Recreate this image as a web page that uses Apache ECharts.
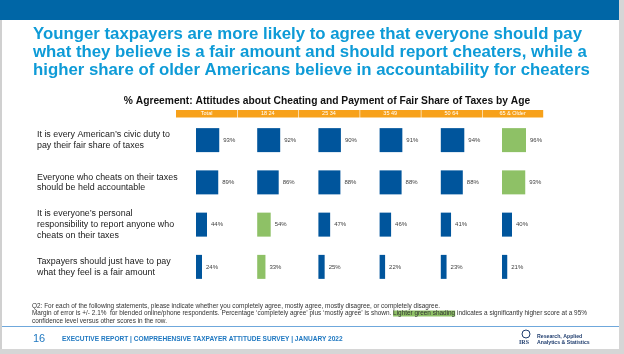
<!DOCTYPE html>
<html>
<head>
<meta charset="utf-8">
<script src="https://cdn.jsdelivr.net/npm/echarts@6/dist/echarts.min.js"></script>
<style>
  html, body { margin: 0; padding: 0; background: #fff; }
  #chart { width: 624px; height: 354px; }
</style>
</head>
<body>
<div id="chart"></div>
<script>
// statements (rows) and age groups (columns)
const statements = [
    'It is every American\u2019s civic duty to\npay their fair share of taxes',
    'Everyone who cheats on their taxes\nshould be held accountable',
    'It is everyone\u2019s personal\nresponsibility to report anyone who\ncheats on their taxes',
    'Taxpayers should just have to pay\nwhat they feel is a fair amount'
];
const ageGroups = ['Total', '18 24', '25 34', '35 49', '50 64', '65 & Older'];

// % agreement, one array per column
const total = [93, 89, 44, 24];
const age18to24 = [92, 86, 54, 33];
const age25to34 = [90, 88, 47, 25];
const age35to49 = [91, 88, 46, 22];
const age50to64 = [94, 88, 41, 23];
const age65plus = [96, 93, 40, 21];
const columns = [total, age18to24, age25to34, age35to49, age50to64, age65plus];

// rows with a significantly higher score (lighter green), per column
const higherRows = [[], [2, 3], [], [], [], [0, 1]];

const BLUE = '#00559c';
const GREEN = '#8ec166';
const ORANGE = '#f7a11a';

const colLeft = 176, colW = 61.2;
const barOffset = 20;

const grids = [], xAxes = [], yAxes = [], series = [];
columns.forEach((vals, i) => {
    grids.push({ left: colLeft + i * colW + barOffset, top: 119, width: 25, height: 169 });
    xAxes.push({ gridIndex: i, type: 'value', min: 0, max: 100, show: false });
    yAxes.push({
        gridIndex: i,
        type: 'category',
        data: statements,
        inverse: true,
        axisLine: { show: false },
        axisTick: { show: false },
        axisLabel: i === 0 ? {
            show: true,
            align: 'left',
            margin: 159,
            fontSize: 8.9,
            lineHeight: 10.6,
            color: '#1a1a1a',
            fontFamily: 'Liberation Sans'
        } : { show: false }
    });
    series.push({
        type: 'bar',
        xAxisIndex: i,
        yAxisIndex: i,
        barWidth: 24,
        silent: true,
        data: vals.map((v, r) => ({
            value: v,
            itemStyle: { color: higherRows[i].indexOf(r) >= 0 ? GREEN : BLUE }
        })),
        label: {
            show: true,
            position: 'right',
            distance: 4,
            formatter: '{c}%',
            fontSize: 6,
            color: '#404040',
            fontFamily: 'Liberation Sans'
        }
    });
});

// header band with age group names
const header = [];
ageGroups.forEach((g, i) => {
    header.push({
        type: 'rect',
        shape: { x: colLeft + i * colW + (i ? 0.6 : 0), y: 110, width: colW - (i ? 0.6 : 0), height: 7.5 },
        style: { fill: ORANGE }
    });
    header.push({
        type: 'text',
        x: colLeft + i * colW + colW / 2,
        y: 113.8,
        style: {
            text: g, fill: '#fff', font: '5.5px "Liberation Sans"',
            align: 'center', verticalAlign: 'middle'
        }
    });
});

const chart = echarts.init(document.getElementById('chart'));
chart.setOption({
    backgroundColor: '#fff',
    animation: false,
    grid: grids,
    xAxis: xAxes,
    yAxis: yAxes,
    series: series,
    graphic: [
        // slide frame
        { type: 'rect', shape: { x: 0, y: 0, width: 2, height: 354 }, style: { fill: '#d0d0d0' } },
        { type: 'rect', shape: { x: 619, y: 0, width: 5, height: 354 }, style: { fill: '#d6d6d6' } },
        { type: 'rect', shape: { x: 0, y: 349, width: 624, height: 5 }, style: { fill: '#d6d6d6' } },
        { type: 'rect', shape: { x: 0, y: 0, width: 619, height: 20 }, style: { fill: '#0066a6' } },
        {
            type: 'text', left: 33, top: 25,
            style: {
                text: 'Younger taxpayers are more likely to agree that everyone should pay\nwhat they believe is a fair amount and should report cheaters, while a\nhigher share of older Americans believe in accountability for cheaters',
                fill: '#0e9bd7', font: 'bold 16.8px "Liberation Sans"', lineHeight: 18
            }
        },
        {
            type: 'text', x: 327, y: 101,
            style: {
                text: '% Agreement: Attitudes about Cheating and Payment of Fair Share of Taxes by Age',
                fill: '#111', font: 'bold 10.25px "Liberation Sans"', align: 'center', verticalAlign: 'middle'
            }
        },
        ...header,
        // notes
        {
            type: 'text', left: 32, top: 302,
            style: {
                text: 'Q2: For each of the following statements, please indicate whether you completely agree, mostly agree, mostly disagree, or completely disagree.\n' +
                    'Margin of error is +/- 2.1%  for blended online/phone respondents. Percentage \u2018completely agree\u2019 plus \u2018mostly agree\u2019 is shown. {hl|Lighter green shading} indicates a significantly higher score at a 95%\n' +
                    'confidence level versus other scores in the row.',
                fill: '#333', font: '6.43px "Liberation Sans"', lineHeight: 7.6,
                rich: { hl: { backgroundColor: GREEN, fill: '#333', font: '6.43px "Liberation Sans"' } }
            }
        },
        { type: 'rect', shape: { x: 2, y: 326, width: 617, height: 1 }, style: { fill: '#6fa8dc' } },
        {
            type: 'text', left: 33, top: 333,
            style: { text: '16', fill: '#1f78c1', font: '11px "Liberation Sans"' }
        },
        {
            type: 'text', left: 62, top: 336,
            style: {
                text: 'EXECUTIVE REPORT | COMPREHENSIVE TAXPAYER ATTITUDE SURVEY | JANUARY 2022',
                fill: '#1f78c1', font: 'bold 6.56px "Liberation Sans"'
            }
        },
        // IRS mark
        { type: 'circle', shape: { cx: 526, cy: 334, r: 4 }, style: { fill: 'none', stroke: '#1f3d6e', lineWidth: 1 } },
        {
            type: 'text', left: 519, top: 339,
            style: { text: 'IRS', fill: '#1f3d6e', font: 'bold 6px "Liberation Serif"' }
        },
        {
            type: 'text', left: 537, top: 333,
            style: {
                text: 'Research, Applied\nAnalytics & Statistics',
                fill: '#1f3d6e', font: 'bold 5.2px "Liberation Sans"', lineHeight: 6.5
            }
        }
    ]
});
</script>
</body>
</html>
